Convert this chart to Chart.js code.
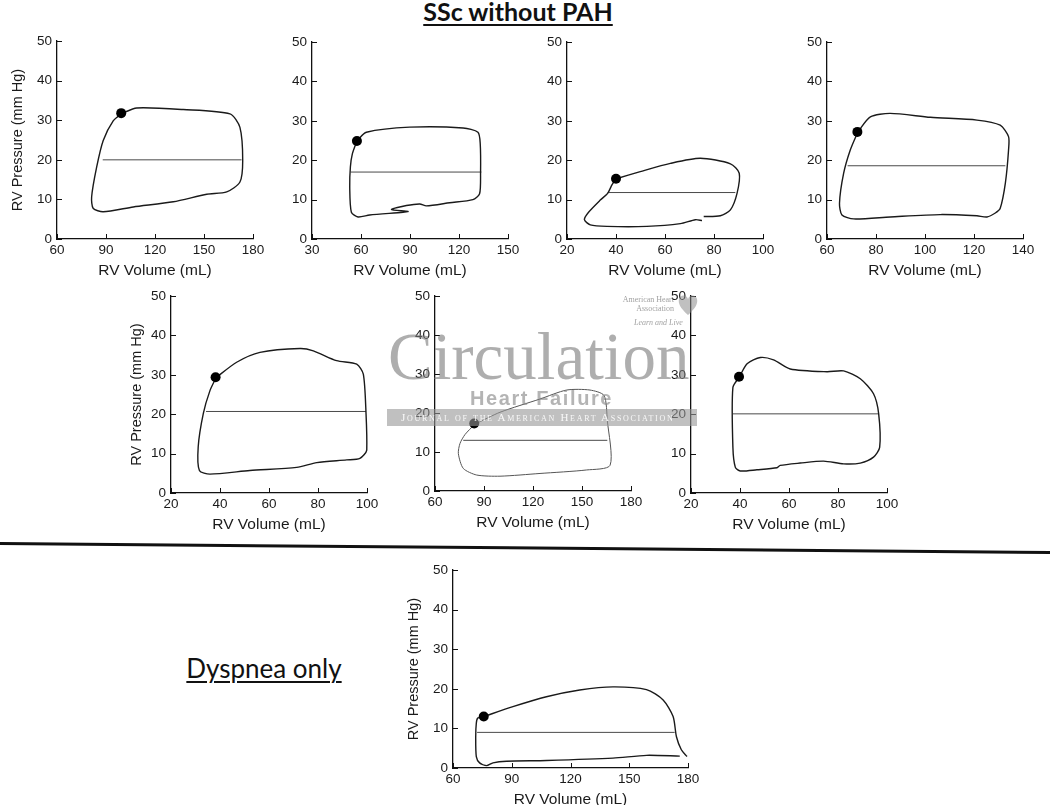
<!DOCTYPE html>
<html>
<head>
<meta charset="utf-8">
<script src="https://cdn.jsdelivr.net/npm/chart.js@4.4.1/dist/chart.umd.min.js"></script>
<style>
  body { margin: 0; width: 1050px; height: 805px; position: relative; background: #fff; overflow: hidden;
         font-family: "Liberation Sans", Arial, sans-serif; }
  canvas { position: absolute; }
  .head { position: absolute; transform: translateX(-50%); white-space: nowrap; color: #111;
          font-family: Lato, "Open Sans", sans-serif; text-decoration: underline; }
  .wm { position: absolute; pointer-events: none; white-space: nowrap; }
</style>
</head>
<body>

<div class="head" style="left:518px; top:-4px; font-size:25px; font-weight:700; text-decoration-thickness:2px; text-underline-offset:3px;">SSc without PAH</div>
<div class="head" style="left:264px; top:652px; font-size:26px; font-weight:400; text-decoration-thickness:2px; text-underline-offset:3px;">Dyspnea only</div>

<svg style="position:absolute;left:0;top:0" width="1050" height="805">
  <line x1="0" y1="543.5" x2="1050" y2="552.5" stroke="#111" stroke-width="3"/>
</svg>

<canvas id="c1"></canvas>
<canvas id="c2"></canvas>
<canvas id="c3"></canvas>
<canvas id="c4"></canvas>
<canvas id="c5"></canvas>
<canvas id="c6"></canvas>
<canvas id="c7"></canvas>
<canvas id="c8"></canvas>

<!-- journal watermark over the middle panel -->
<div class="wm" style="left:388px; top:323px; font:67px/66px 'Liberation Serif', serif; color:rgba(120,120,120,0.6);">Circulation</div>
<div class="wm" style="left:470px; top:388px; font:bold 20px/20px 'Liberation Sans', sans-serif; letter-spacing:1.6px; color:rgba(130,130,130,0.6);">Heart Failure</div>
<div class="wm" style="left:387px; top:409px; width:310px; height:17px; background:rgba(150,150,150,0.6);">
  <div style="padding-left:14px; font:11px/17px 'Liberation Serif', serif; font-variant:small-caps; letter-spacing:1.7px; color:rgba(255,255,255,0.9);">Journal of the American Heart Association</div>
</div>
<div class="wm" style="left:612px; top:295px; width:62px; text-align:right; font:8px/9px 'Liberation Serif', serif; color:rgba(120,120,120,0.7);">American Heart<br>Association</div>
<div class="wm" style="left:634px; top:318px; font:italic 8px 'Liberation Serif', serif; color:rgba(120,120,120,0.7);">Learn and Live</div>
<svg class="wm" style="left:678px; top:294px" width="20" height="22">
  <path d="M10 21 C 2 14, 0 9, 1 5 C 2 1, 8 0, 10 5 C 12 0, 18 1, 19 5 C 20 9, 18 14, 10 21 Z" fill="rgba(140,140,140,0.55)"/>
</svg>

<script>
// ---- data: RV pressure-volume loops (volume mL, pressure mm Hg) ----
const yTicks = [0, 10, 20, 30, 40, 50];

const xTicks1 = [60, 90, 120, 150, 180];
const loop1 = [[99.6,31.7],[108.8,33.1],[137.3,32.7],[165.9,31.6],[172,28.2],[173.7,19.8],[172,14.4],[163.9,11.9],[151.7,11.3],[131.2,9.4],[106.7,8.1],[88.3,6.9],[82.2,7.7],[81.2,10.6],[84.3,18.2],[88.3,24.9],[94.5,29.9],[99.6,31.7]];
const mid1 = [[88,20],[173,20]];
const dot1 = [99.3,31.8];

const xTicks2 = [30, 60, 90, 120, 150];
const loop2 = [[57.6,25],[63.3,27.1],[89.8,28.4],[122.5,28.2],[131.6,27.1],[133,24.2],[133.2,16.6],[132.6,11.5],[128.5,10],[114.3,9.2],[100,8.4],[96,8.9],[87.8,8.5],[78.6,7.5],[88.8,7.0],[85.7,6.8],[65.3,6.1],[58.2,5.6],[54.1,6.8],[53.1,13.2],[53.5,18.3],[54.7,21.6],[57.6,25]];
const mid2 = [[53.7,17],[133.7,17]];
const dot2 = [57.5,24.9];

const xTicks3 = [20, 40, 60, 80, 100];
const loop3 = [[40.1,15.3],[49.9,17.1],[62.2,19.2],[74.4,20.5],[86.7,19.1],[90.3,16.7],[89.4,11.6],[86.7,7.4],[82.6,5.9],[75.8,5.7],[75.8,null],[75.1,4.7],[72.4,4.9],[66.3,3.9],[52.6,3.2],[36.3,3.2],[29.5,3.6],[27.1,4.9],[28.8,6.8],[33.6,9.9],[36.6,11.6],[38.4,13.8],[40.1,15.3]];
const mid3 = [[36.6,11.8],[88.7,11.8]];
const dot3 = [40,15.3];

const xTicks4 = [60, 80, 100, 120, 140];
const loop4 = [[72.6,27.2],[77.7,31],[85.8,31.9],[102.2,30.9],[121.2,30.2],[130.7,28.9],[134.1,26],[134.1,22.6],[132.8,14.2],[130.7,7.8],[128.7,6.6],[125.3,5.6],[121.2,5.9],[106.2,6.2],[85.8,5.6],[70.9,5.1],[66.1,6.1],[65.1,9.1],[66.8,16.7],[69.5,22.6],[72.6,27.2]];
const mid4 = [[68.4,18.6],[132.8,18.6]];
const dot4 = [72.4,27.2];

const xTicks5 = [20, 40, 60, 80, 100];
const loop5 = [[38.4,29.3],[46.8,33.2],[56.3,35.7],[72.7,36.7],[78.1,36.1],[87.6,33.6],[95.8,32.7],[98.5,30.2],[99.6,20.2],[99.9,10.9],[97.1,8.8],[91.7,8.4],[79.5,7.7],[71.3,6.5],[52.2,5.7],[35.9,4.8],[31.6,5.7],[31.1,11.7],[33.2,20.2],[35.9,26],[38.4,29.3]];
const mid5 = [[34.3,20.7],[99.6,20.7]];
const dot5 = [38.2,29.4];

const xTicks6 = [60, 90, 120, 150, 180];
const loop6 = [[84.3,17.1],[99.8,20.2],[124.3,23.6],[140.6,25.9],[154.9,25.9],[163.5,24.5],[165.5,18.1],[167.2,6.6],[152.9,5.4],[124.3,4.5],[99.8,3.8],[85.5,4.1],[77.3,5.8],[74.3,9.6],[75.3,12.2],[78.4,14.5],[84.3,17.1]];
const mid6 = [[77.3,13],[165.5,13]];
const dot6 = [84,17.3];

const xTicks7 = [20, 40, 60, 80, 100];
const loop7 = [[39.7,29.4],[42.9,32.8],[48.3,34.4],[53.7,33.8],[60.5,31.5],[75.5,30.8],[82.3,31],[89.1,29],[94.5,25.2],[96.6,20.1],[97,11.6],[94.5,9.1],[89.1,7.6],[82.3,7.4],[74.1,8.1],[64.6,7.6],[56.4,7],[55.1,6.4],[46.9,5.9],[40.1,5.6],[38.1,6.5],[37.1,11.6],[37.1,26.8],[39.7,29.4]];
const mid7 = [[37.1,20.1],[96.6,20.1]];
const dot7 = [39.6,29.5];

const xTicks8 = [60, 90, 120, 150, 180];
const loop8 = [[75.7,13],[90.6,15.5],[107.7,18],[124.7,19.7],[141.7,20.5],[158.8,19.8],[167.3,17.2],[172.4,13],[174.1,7.9],[176.6,4.6],[179.5,2.9],[179.5,null],[175.8,3],[158.8,3.2],[141.7,2.5],[107.7,1.9],[87.3,1.7],[80.4,1.3],[77.1,0.6],[73.6,1.3],[71.9,2.9],[71.6,7.9],[71.9,11.3],[72.6,12.6],[75.7,13]];
const mid8 = [[72.3,9],[173.2,9]];
const dot8 = [75.7,13];

const xTitle = 'RV Volume (mL)';
const yTitle = 'RV Pressure (mm Hg)';

// ---- layout: plot-area box of each panel on the page ----
const panels = [
  { id: 'c1', L: 57,  T: 40,  W: 196, H: 199, xTicks: xTicks1, loop: loop1, mid: mid1, dot: dot1, yt: 7 },
  { id: 'c2', L: 312, T: 41,  W: 196, H: 198, xTicks: xTicks2, loop: loop2, mid: mid2, dot: dot2 },
  { id: 'c3', L: 567, T: 41,  W: 196, H: 198, xTicks: xTicks3, loop: loop3, mid: mid3, dot: dot3 },
  { id: 'c4', L: 827, T: 41,  W: 196, H: 198, xTicks: xTicks4, loop: loop4, mid: mid4, dot: dot4 },
  { id: 'c5', L: 171, T: 295, W: 196, H: 198, xTicks: xTicks5, loop: loop5, mid: mid5, dot: dot5, yt: 12 },
  { id: 'c6', L: 435, T: 295, W: 196, H: 196, xTicks: xTicks6, loop: loop6, mid: mid6, dot: dot6, faint: true },
  { id: 'c7', L: 691, T: 295, W: 196, H: 198, xTicks: xTicks7, loop: loop7, mid: mid7, dot: dot7 },
  { id: 'c8', L: 453, T: 569, W: 235, H: 199, xTicks: xTicks8, loop: loop8, mid: mid8, dot: dot8, yt: 7 }
];

const Y_W = 55, X_H = 45, PAD_T = 12, PAD_R = 22;

Chart.defaults.font.family = '"Liberation Sans", Arial, sans-serif';
Chart.defaults.color = '#1a1a1a';

// short tick marks pointing into the plot
const innerTicks = {
  id: 'innerTicks',
  afterDraw(chart) {
    const { ctx, chartArea, scales } = chart;
    ctx.save();
    ctx.strokeStyle = '#111';
    ctx.lineWidth = 1;
    scales.x.ticks.forEach(t => {
      const px = Math.round(scales.x.getPixelForValue(t.value)) + 0.5;
      ctx.beginPath(); ctx.moveTo(px, chartArea.bottom); ctx.lineTo(px, chartArea.bottom - 5); ctx.stroke();
    });
    scales.y.ticks.forEach(t => {
      const py = Math.round(scales.y.getPixelForValue(t.value)) + 0.5;
      ctx.beginPath(); ctx.moveTo(chartArea.left, py); ctx.lineTo(chartArea.left + 5, py); ctx.stroke();
    });
    ctx.restore();
  }
};

const toXY = arr => arr.map(p => ({ x: p[0], y: p[1] }));

panels.forEach(p => {
  const cv = document.getElementById(p.id);
  cv.width = p.W + Y_W + PAD_R;
  cv.height = p.H + PAD_T + X_H;
  cv.style.left = (p.L - Y_W) + 'px';
  cv.style.top = (p.T - PAD_T) + 'px';
  const lineCol = p.faint ? '#555' : '#1a1a1a';

  new Chart(cv, {
    type: 'scatter',
    data: {
      datasets: [
        { data: [{ x: p.dot[0], y: p.dot[1] }], pointRadius: 5, pointBackgroundColor: '#000',
          pointBorderColor: '#000', pointBorderWidth: 0 },
        { data: toXY(p.loop), showLine: true, pointRadius: 0, borderColor: lineCol,
          borderWidth: p.faint ? 1 : 1.4, tension: 0.25, spanGaps: false, fill: false },
        { data: toXY(p.mid), showLine: true, pointRadius: 0, borderColor: '#4a4a4a',
          borderWidth: 1, fill: false }
      ]
    },
    options: {
      responsive: false,
      animation: false,
      events: [],
      clip: false,
      layout: { padding: { top: PAD_T, right: PAD_R, left: 0, bottom: 0 } },
      plugins: { legend: { display: false }, tooltip: { enabled: false } },
      scales: {
        x: {
          type: 'linear',
          min: p.xTicks[0],
          max: p.xTicks[p.xTicks.length - 1],
          afterBuildTicks: s => { s.ticks = p.xTicks.map(v => ({ value: v })); },
          afterFit: s => { s.height = X_H; },
          grid: { display: false, drawTicks: false },
          border: { display: true, color: '#111', width: 1.3 },
          ticks: { padding: 3, font: { size: 13.5 }, maxRotation: 0, autoSkip: false },
          title: { display: true, text: xTitle, font: { size: 15.5 }, padding: { top: 0, bottom: 4 } }
        },
        y: {
          type: 'linear',
          min: yTicks[0],
          max: yTicks[yTicks.length - 1],
          afterBuildTicks: s => { s.ticks = yTicks.map(v => ({ value: v })); },
          afterFit: s => { s.width = Y_W; },
          grid: { display: false, drawTicks: false },
          border: { display: true, color: '#111', width: 1.3 },
          ticks: { padding: 5, font: { size: 13.5 }, autoSkip: false },
          title: { display: !!p.yt, text: yTitle, font: { size: 14.5 }, padding: { top: p.yt || 0, bottom: 0 } }
        }
      }
    },
    plugins: [innerTicks]
  });
});
</script>
</body>
</html>
